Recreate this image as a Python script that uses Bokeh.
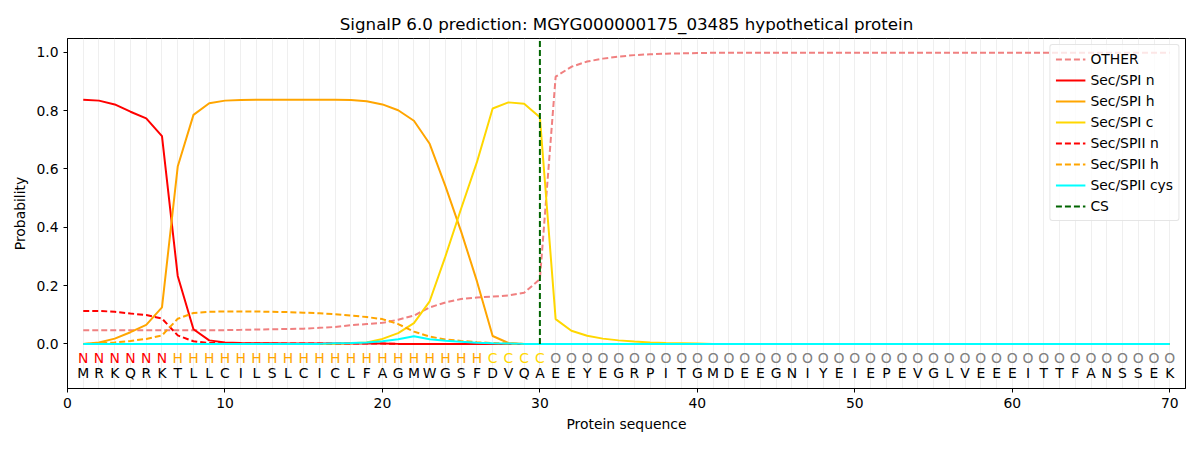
from bokeh.plotting import figure
from bokeh.models import Legend, LegendItem, FixedTicker, ColumnDataSource, Range1d, PrintfTickFormatter
from bokeh.core.properties import value
from bokeh.embed import file_html
from bokeh.resources import INLINE

positions = list(range(1, 71))
sequence = list("MRKQRKTLLCILSLCICLFAGMWGSFDVQAEEYEGRPITGMDEEGNIYEIEPEVGLVEEEITTFANSSEK")
region_labels = ["N"] * 6 + ["H"] * 20 + ["C"] * 4 + ["O"] * 40
label_colors = {"N": "red", "H": "orange", "C": "gold", "O": "gray"}

other = ([0.047] * 10 + [0.048, 0.049, 0.050, 0.051, 0.052, 0.055, 0.058, 0.064, 0.068, 0.072,
         0.083, 0.097, 0.125, 0.142, 0.154, 0.159, 0.162, 0.166, 0.175, 0.222,
         0.916, 0.950, 0.968, 0.978, 0.985, 0.990, 0.993, 0.995, 0.996, 0.997]
         + [0.998] * 30)
sp1_n = ([0.837, 0.834, 0.821, 0.796, 0.773, 0.712, 0.233, 0.050, 0.012, 0.005,
          0.003, 0.002, 0.002, 0.001, 0.001, 0.001, 0.001, 0.001, 0.001, 0.001]
         + [0.0] * 50)
sp1_h = ([0.0, 0.005, 0.018, 0.040, 0.065, 0.125, 0.608, 0.785, 0.825, 0.834,
          0.836, 0.837, 0.837, 0.837, 0.837, 0.837, 0.837, 0.836, 0.832, 0.821,
          0.801, 0.765, 0.686, 0.541, 0.385, 0.215, 0.027, 0.003]
         + [0.0] * 42)
sp1_c = ([0.0] * 17 + [0.002, 0.005, 0.017, 0.037, 0.071, 0.146, 0.300, 0.464, 0.623,
          0.807, 0.828, 0.823, 0.777, 0.085, 0.045, 0.028, 0.018, 0.012, 0.008,
          0.005, 0.003, 0.002, 0.001]
         + [0.0] * 30)
sp2_n = ([0.113, 0.113, 0.110, 0.104, 0.099, 0.087, 0.029, 0.009, 0.003, 0.002]
         + [0.001] * 10 + [0.0] * 50)
sp2_h = ([0.0, 0.002, 0.005, 0.010, 0.017, 0.029, 0.086, 0.106, 0.110, 0.111,
          0.111, 0.111, 0.110, 0.109, 0.107, 0.105, 0.102, 0.097, 0.092, 0.085,
          0.068, 0.042, 0.025, 0.015, 0.010, 0.006, 0.003, 0.001]
         + [0.0] * 42)
sp2_cys = ([0.0] * 16 + [0.002, 0.003, 0.005, 0.009, 0.016, 0.026, 0.016, 0.011, 0.007,
           0.004, 0.002, 0.001] + [0.0] * 42)
cs_position = 30

p = figure(width=1192, height=434, output_backend="svg", toolbar_location=None,
           title="SignalP 6.0 prediction: MGYG000000175_03485 hypothetical protein",
           x_range=Range1d(0, 71), y_range=Range1d(-0.153, 1.047),
           min_border_left=67, min_border_right=7, min_border_top=38, min_border_bottom=42)

p.title.align = "center"
p.title.text_font = "DejaVu Sans"
p.title.text_font_size = "16.7px"
p.title.text_font_style = "normal"
p.title.text_color = "black"

p.xaxis.axis_label = "Protein sequence"
p.yaxis.axis_label = "Probability"
for ax in (p.xaxis[0], p.yaxis[0]):
    ax.axis_label_text_font = "DejaVu Sans"
    ax.axis_label_text_font_size = "13.9px"
    ax.axis_label_text_font_style = "normal"
    ax.axis_label_text_color = "black"
    ax.major_label_text_font = "DejaVu Sans"
    ax.major_label_text_font_size = "13.9px"
    ax.major_label_text_color = "black"
    ax.axis_line_color = "black"
    ax.major_tick_line_color = "black"
    ax.minor_tick_line_color = None
    ax.major_tick_in = 0
    ax.major_tick_out = 4
    ax.axis_label_standoff = 5
p.xaxis.ticker = FixedTicker(ticks=[0, 10, 20, 30, 40, 50, 60, 70])
p.yaxis.ticker = FixedTicker(ticks=[0.0, 0.2, 0.4, 0.6, 0.8, 1.0])
p.yaxis.formatter = PrintfTickFormatter(format="%.1f")
p.ygrid.grid_line_color = None
p.xgrid.ticker = FixedTicker(ticks=positions)
p.xgrid.grid_line_color = "#e8e8e8"
p.xgrid.grid_line_alpha = 0.7
p.outline_line_color = "black"
p.outline_line_alpha = 1.0

lw = 2
r_other = p.line(positions, other, color="lightcoral", line_width=lw, line_dash="6 3")
r_n = p.line(positions, sp1_n, color="red", line_width=lw)
r_h = p.line(positions, sp1_h, color="orange", line_width=lw)
r_c = p.line(positions, sp1_c, color="gold", line_width=lw)
r_n2 = p.line(positions, sp2_n, color="red", line_width=lw, line_dash="6 3")
r_h2 = p.line(positions, sp2_h, color="orange", line_width=lw, line_dash="6 3")
r_cys = p.line(positions, sp2_cys, color="cyan", line_width=lw)
r_cs = p.line([cs_position, cs_position], [0, 1.04], color="darkgreen", line_width=lw, line_dash="6 3")

src = ColumnDataSource(dict(x=positions, seq=sequence, lab=region_labels,
                            col=[label_colors[l] for l in region_labels],
                            y1=[-0.047] * 70, y2=[-0.10] * 70))
p.text(x="x", y="y1", text="lab", source=src, text_color="col", text_align="center",
       text_baseline="middle", text_font=value("DejaVu Sans"), text_font_size="13.9px")
p.text(x="x", y="y2", text="seq", source=src, text_color="black", text_align="center",
       text_baseline="middle", text_font=value("DejaVu Sans"), text_font_size="13.9px")

legend = Legend(items=[
    LegendItem(label="OTHER", renderers=[r_other]),
    LegendItem(label="Sec/SPI n", renderers=[r_n]),
    LegendItem(label="Sec/SPI h", renderers=[r_h]),
    LegendItem(label="Sec/SPI c", renderers=[r_c]),
    LegendItem(label="Sec/SPII n", renderers=[r_n2]),
    LegendItem(label="Sec/SPII h", renderers=[r_h2]),
    LegendItem(label="Sec/SPII cys", renderers=[r_cys]),
    LegendItem(label="CS", renderers=[r_cs]),
], location="top_right")
legend.label_text_font = "DejaVu Sans"
legend.label_text_font_size = "13.9px"
legend.label_text_color = "black"
legend.glyph_width = 30
legend.glyph_height = 18
legend.label_height = 18
legend.spacing = 3
legend.padding = 5
legend.margin = 6
legend.border_line_color = "#cccccc"
legend.border_radius = 3
legend.background_fill_alpha = 0.8
p.add_layout(legend)

open("out.html", "w").write(file_html(p, INLINE))
